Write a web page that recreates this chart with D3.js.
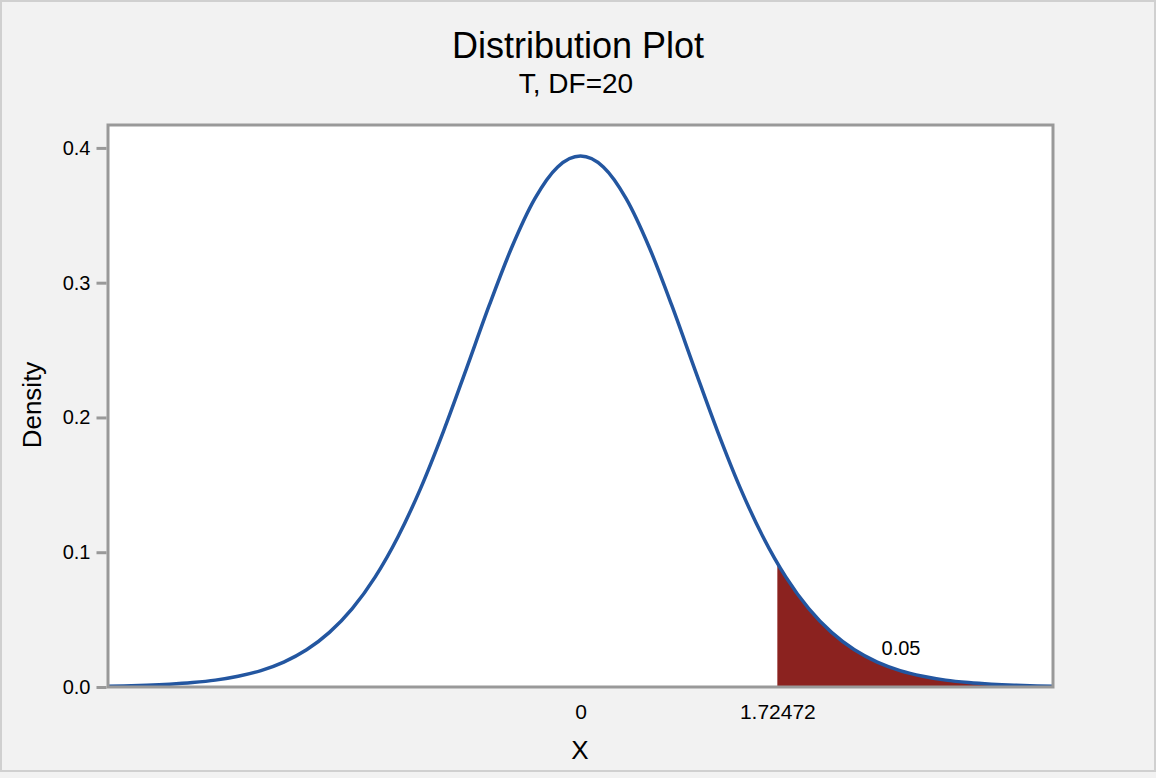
<!DOCTYPE html>
<html>
<head>
<meta charset="utf-8">
<script src="https://cdn.jsdelivr.net/npm/d3@7"></script>
<style>
  body { margin: 0; background: #f2f2f2; }
  text { font-family: "Liberation Sans", Arial, sans-serif; fill: #000; }
</style>
</head>
<body>
<svg width="1156" height="778"></svg>
<script>
// t distribution, DF = 20 - density
var xValues = [-4.2, -4.0, -3.8, -3.6, -3.4, -3.2, -3.0, -2.8, -2.6, -2.4, -2.2, -2.0,
               -1.8, -1.6, -1.4, -1.2, -1.0, -0.8, -0.6, -0.4, -0.2, 0,
               0.2, 0.4, 0.6, 0.8, 1.0, 1.2, 1.4, 1.6, 1.8, 2.0,
               2.2, 2.4, 2.6, 2.8, 3.0, 3.2, 3.4, 3.6, 3.8, 4.0, 4.2];
var densities = [0.0005, 0.0008, 0.0013, 0.0021, 0.0033, 0.0051, 0.0080, 0.0122, 0.0185, 0.0276, 0.0405, 0.0581,
                 0.0815, 0.1113, 0.1476, 0.1899, 0.2361, 0.2831, 0.3267, 0.3624, 0.3859, 0.3940,
                 0.3859, 0.3624, 0.3267, 0.2831, 0.2361, 0.1899, 0.1476, 0.1113, 0.0815, 0.0581,
                 0.0405, 0.0276, 0.0185, 0.0122, 0.0080, 0.0051, 0.0033, 0.0021, 0.0013, 0.0008, 0.0005];
var critValue = 1.72472;
var critDensity = 0.0919;
var tailLabel = "0.05";
var yTicks = [0, 0.1, 0.2, 0.3, 0.4];
var xTicks = [0, 1.72472];
var xTickLabels = ["0", "1.72472"];

var svg = d3.select("svg");

// outer frame
svg.append("rect")
  .attr("x", 1).attr("y", 1).attr("width", 1154).attr("height", 770)
  .attr("fill", "#f2f2f2").attr("stroke", "#d0d0d0").attr("stroke-width", 2);

var plotLeft = 108, plotRight = 1053, plotTop = 125, plotBottom = 687;

var x = d3.scaleLinear().domain([-4.14, 4.14]).range([plotLeft, plotRight]);
var y = d3.scaleLinear().domain([0, 0.417]).range([plotBottom, plotTop]);

svg.append("rect")
  .attr("x", plotLeft).attr("y", plotTop)
  .attr("width", plotRight - plotLeft).attr("height", plotBottom - plotTop)
  .attr("fill", "#fff");

svg.append("clipPath").attr("id", "plotclip")
  .append("rect")
  .attr("x", plotLeft).attr("y", plotTop)
  .attr("width", plotRight - plotLeft).attr("height", plotBottom - plotTop);

var points = xValues.map(function(v, i) { return [v, densities[i]]; });

// shaded upper tail
var tail = [[critValue, critDensity]].concat(points.filter(function(p) { return p[0] > critValue; }));

var area = d3.area()
  .x(function(d) { return x(d[0]); })
  .y0(y(0))
  .y1(function(d) { return y(d[1]); })
  .curve(d3.curveMonotoneX);

var line = d3.line()
  .x(function(d) { return x(d[0]); })
  .y(function(d) { return y(d[1]); })
  .curve(d3.curveMonotoneX);

var plot = svg.append("g").attr("clip-path", "url(#plotclip)");

plot.append("path")
  .datum(tail)
  .attr("fill", "#8b221f")
  .attr("d", area);

plot.append("path")
  .datum(points)
  .attr("fill", "none")
  .attr("stroke", "#2356a0")
  .attr("stroke-width", 3.5)
  .attr("d", line);

// plot border
svg.append("rect")
  .attr("x", plotLeft).attr("y", plotTop)
  .attr("width", plotRight - plotLeft).attr("height", plotBottom - plotTop)
  .attr("fill", "none").attr("stroke", "#999").attr("stroke-width", 3);

// y axis
var yAxis = svg.append("g")
  .attr("transform", "translate(" + (plotLeft - 1.5) + ",0)")
  .call(d3.axisLeft(y).tickValues(yTicks).tickFormat(d3.format(".1f")).tickSize(10).tickPadding(6));
yAxis.select(".domain").remove();
yAxis.selectAll(".tick line").attr("stroke", "#999").attr("stroke-width", 3);
yAxis.selectAll(".tick text").attr("font-size", 20).attr("font-family", null);

// x axis
var xAxis = svg.append("g")
  .attr("transform", "translate(0," + plotBottom + ")")
  .call(d3.axisBottom(x).tickValues(xTicks)
    .tickFormat(function(d, i) { return xTickLabels[i]; })
    .tickSize(0).tickPadding(17));
xAxis.select(".domain").remove();
xAxis.selectAll(".tick text").attr("font-size", 21).attr("font-family", null);

// tail probability label
svg.append("text")
  .attr("x", 901).attr("y", 655)
  .attr("text-anchor", "middle")
  .attr("font-size", 20)
  .text(tailLabel);

// titles
svg.append("text")
  .attr("x", 578).attr("y", 58)
  .attr("text-anchor", "middle")
  .attr("font-size", 36)
  .text("Distribution Plot");

svg.append("text")
  .attr("x", 576).attr("y", 93)
  .attr("text-anchor", "middle")
  .attr("font-size", 28)
  .text("T, DF=20");

svg.append("text")
  .attr("x", 580).attr("y", 759)
  .attr("text-anchor", "middle")
  .attr("font-size", 26)
  .text("X");

svg.append("text")
  .attr("transform", "translate(41,405) rotate(-90)")
  .attr("text-anchor", "middle")
  .attr("font-size", 26)
  .text("Density");
</script>
</body>
</html>
